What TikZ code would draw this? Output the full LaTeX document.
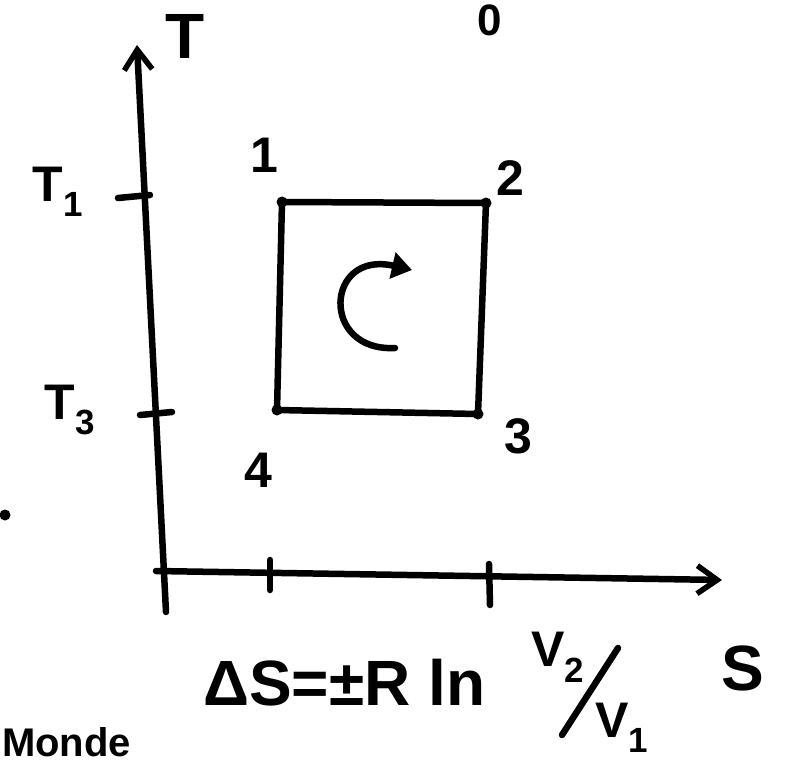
\documentclass[tikz,border=0pt]{standalone}
\usepackage{fontspec}
\setmainfont{Liberation Sans}
\usetikzlibrary{arrows.meta}
\tikzset{
  ink/.style={line width=6.5pt, line cap=round, line join=round, black},
  axisarrow/.style={ink, -{Straight Barb[length=20pt,width=28pt,line width=5.5pt]}},
  lbl/.style={font=\fontsize{50}{50}\selectfont\bfseries, inner sep=0pt},
  biglbl/.style={font=\fontsize{64}{64}\selectfont\bfseries, inner sep=0pt},
  corner/.style={circle, fill=black, inner sep=0pt, minimum size=11pt}
}
\begin{document}
\begin{tikzpicture}[x=1pt,y=-1pt]
\useasboundingbox (0,0) rectangle (785,763);
\begin{scope}
\clip (0,0) rectangle (785,763);
% axes
\coordinate (ybot) at (166,612);
\coordinate (ytop) at (137,45);
\coordinate (xleft) at (156,571);
\coordinate (xright) at (722,580);
\draw[axisarrow] (ybot) -- (ytop);
\draw[axisarrow] (xleft) -- (xright);
% ticks
\coordinate (t1a) at (118,198); \coordinate (t1b) at (150,195);
\coordinate (t3a) at (140,415); \coordinate (t3b) at (172,412);
\coordinate (s1a) at (270,560); \coordinate (s1b) at (270,590);
\coordinate (s2a) at (489,564); \coordinate (s2b) at (490,605);
\draw[ink] (t1a) -- (t1b);
\draw[ink] (t3a) -- (t3b);
\draw[ink] (s1a) -- (s1b);
\draw[ink] (s2a) -- (s2b);
% cycle
\node[corner] (p1) at (282,202) {};
\node[corner] (p2) at (486,203) {};
\node[corner] (p3) at (478,414) {};
\node[corner] (p4) at (277,410) {};
\draw[ink] (p1.center) -- (p2.center) -- (p3.center) -- (p4.center) -- cycle;
% rotation arrow
\coordinate (c1) at (395,348);
\coordinate (c2) at (412,270);
\draw[ink, -{Triangle[length=20pt,width=26pt]}] (c1) .. controls (320,352) and (325,250) .. (c2);
% labels
\node[biglbl] (lT) at (185,36) {T};
\node[biglbl] (lS) at (743,668) {S};
\node[lbl] (lT1) at (58,192) {T\textsubscript{1}};
\node[lbl] (lT3) at (70,410) {T\textsubscript{3}};
\node[lbl] (l1) at (264,155) {1};
\node[lbl] (l2) at (510,178) {2};
\node[lbl] (l3) at (518,436) {3};
\node[lbl] (l4) at (258,470) {4};
% formula
\node[biglbl, anchor=base west] (form) at (203,705) {ΔS=±R ln};
\node[lbl] (v2) at (558,657) {V\textsubscript{2}};
\node[lbl] (v1) at (622,728) {V\textsubscript{1}};
\coordinate (sla) at (618,648); \coordinate (slb) at (562,735);
\draw[ink] (sla) -- (slb);
% fragments at the edges
\node[font=\fontsize{40}{40}\selectfont\bfseries, inner sep=0pt, anchor=base west] (monde) at (2,756) {Monde};
\node[font=\fontsize{44}{44}\selectfont\bfseries, inner sep=0pt] (top) at (490,20) {0};
\node[corner] (dot) at (5,515) {};
\end{scope}
\end{tikzpicture}
\end{document}
